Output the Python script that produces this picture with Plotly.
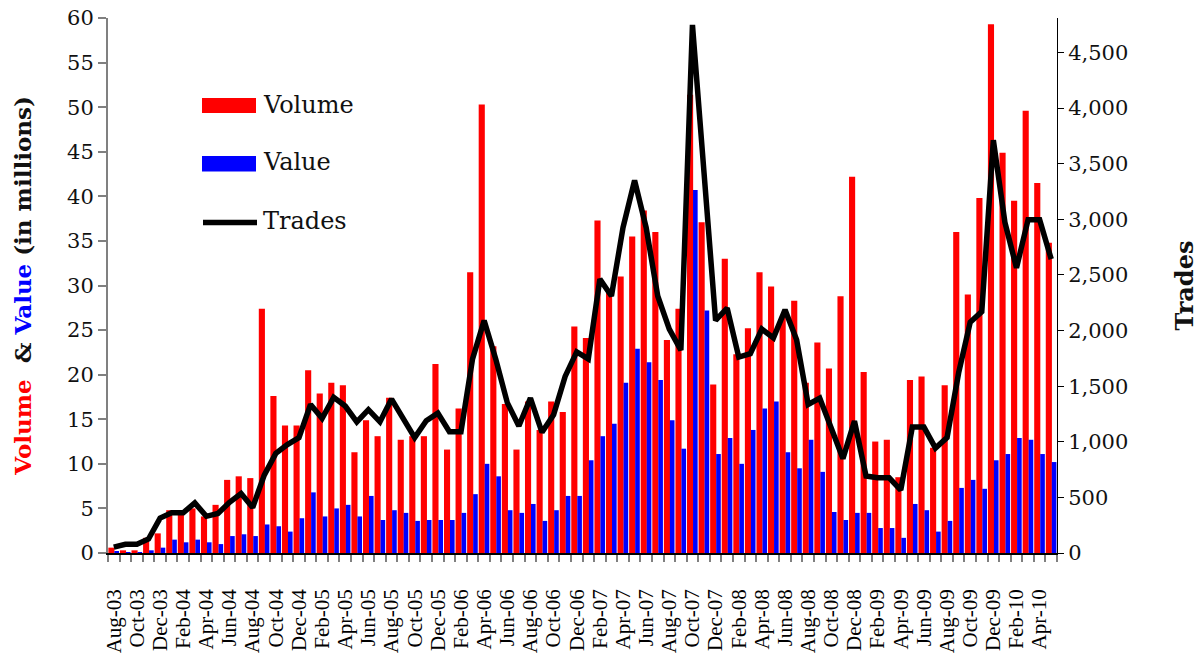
import plotly.graph_objects as go
import pandas as pd

# ---------------- data ----------------
months = pd.date_range("2003-08-01", periods=82, freq="MS").strftime("%b-%y").tolist()

volume = [0.6, 0.3, 0.3, 1.7, 2.2, 4.8, 4.5, 5.0, 4.1, 5.4, 8.2, 8.6, 8.4, 27.4, 17.6, 14.3,
          14.3, 20.5, 17.9, 19.1, 18.8, 11.3, 14.9, 13.1, 17.4, 12.7, 13.1, 13.1, 21.2, 11.6,
          16.2, 31.5, 50.3, 23.2, 16.7, 11.6, 17.0, 13.8, 17.0, 15.8, 25.4, 24.1, 37.3, 29.5,
          31.0, 35.5, 38.4, 36.0, 23.9, 27.4, 51.4, 37.1, 18.9, 33.0, 22.3, 25.2, 31.5, 29.9,
          26.5, 28.3, 19.1, 23.6, 20.7, 28.8, 42.2, 20.3, 12.5, 12.7, 8.5, 19.4, 19.8, 11.8,
          18.8, 36.0, 29.0, 39.8, 59.3, 44.9, 39.5, 49.6, 41.5, 34.8]

value = [0.2, 0.1, 0.1, 0.3, 0.6, 1.5, 1.2, 1.5, 1.2, 1.0, 1.9, 2.1, 1.9, 3.2, 3.0, 2.4,
         3.9, 6.8, 4.1, 5.0, 5.4, 4.1, 6.4, 3.7, 4.8, 4.5, 3.6, 3.7, 3.7, 3.7,
         4.5, 6.6, 10.0, 8.6, 4.8, 4.5, 5.5, 3.6, 4.8, 6.4, 6.4, 10.4, 13.1, 14.5,
         19.1, 22.9, 21.4, 19.4, 14.9, 11.7, 40.7, 27.2, 11.1, 12.9, 10.0, 13.8, 16.2, 17.0,
         11.3, 9.5, 12.7, 9.1, 4.6, 3.7, 4.5, 4.5, 2.8, 2.8, 1.7, 5.5, 4.8, 2.4,
         3.6, 7.3, 8.2, 7.2, 10.4, 11.1, 12.9, 12.7, 11.1, 10.2]

trades = [53, 79, 79, 126, 314, 362, 362, 450, 330, 355, 456, 535, 409, 700, 896, 975,
          1038, 1336, 1211, 1399, 1321, 1179, 1289, 1179, 1384, 1211, 1038, 1190, 1258, 1091,
          1091, 1745, 2091, 1745, 1352, 1142, 1393, 1085, 1242, 1588, 1808, 1745, 2462, 2311,
          2925, 3349, 2925, 2311, 2013, 1824, 4748, 3420, 2091, 2201, 1761, 1792, 2013, 1934,
          2186, 1918, 1336, 1393, 1116, 849, 1186, 692, 676, 676, 566, 1132, 1132, 943,
          1038, 1619, 2075, 2170, 3711, 2972, 2563, 2997, 2997, 2642]

left_ticks = list(range(0, 61, 5))
right_ticks = list(range(0, 4501, 500))

# ---------------- figure ----------------
W, H = 1204, 655
L, R, T, B = 108, 147, 18, 102
pw, ph = W - L - R, H - T - B

xi = list(range(len(months)))

fig = go.Figure()
fig.add_trace(go.Bar(x=xi, y=volume, name="Volume", marker=dict(color="#ff0000", line=dict(width=0)),
                     offset=-0.47, width=0.53, showlegend=False))
fig.add_trace(go.Bar(x=xi, y=value, name="Value", marker=dict(color="#0000ff", line=dict(width=0)),
                     offset=0.05, width=0.40, showlegend=False))
fig.add_trace(go.Scatter(x=xi, y=trades, name="Trades", mode="lines", yaxis="y2",
                         line=dict(color="#000000", width=5.5), showlegend=False))


def px_x(p):
    return (p - L) / pw


def px_y(p):
    return (H - B - p) / ph


# manual legend (swatches + text)
legend_items = [("Volume", "#ff0000", "bar", 98, 113, 105),
                ("Value", "#0000ff", "bar", 156, 171.5, 162),
                ("Trades", "#000000", "line", 222.5, 222.5, 221)]
shapes = []
annotations = []
for name, col, kind, y0, y1, yt in legend_items:
    if kind == "bar":
        shapes.append(dict(type="rect", xref="paper", yref="paper",
                           x0=px_x(202), x1=px_x(256), y0=px_y(y1), y1=px_y(y0),
                           fillcolor=col, line=dict(width=0)))
    else:
        shapes.append(dict(type="line", xref="paper", yref="paper",
                           x0=px_x(203), x1=px_x(257), y0=px_y(y0), y1=px_y(y0),
                           line=dict(color=col, width=5.5)))
    annotations.append(dict(text=name, xref="paper", yref="paper", x=px_x(261), y=px_y(yt),
                            xanchor="left", yanchor="middle", showarrow=False,
                            font=dict(family="DejaVu Serif", size=24, color="#111111")))

fig.update_layout(
    width=W, height=H,
    margin=dict(l=L, r=R, t=T, b=B, autoexpand=False),
    paper_bgcolor="white", plot_bgcolor="white",
    barmode="overlay",
    showlegend=False,
    shapes=shapes,
    annotations=annotations,
    xaxis=dict(
        range=[-0.5, len(months) - 0.5],
        tickmode="array", tickvals=xi[::2], ticktext=months[::2],
        tickangle=-90, ticks="", ticklabelstandoff=26,
        tickfont=dict(family="Liberation Serif", size=21, color="#000000"),
        showgrid=False, zeroline=False,
        showline=True, linecolor="#000000", linewidth=1.5,
        minor=dict(tickmode="array", tickvals=[i - 0.5 for i in range(len(months) + 1)],
                   ticks="outside", ticklen=7, tickcolor="#808080", tickwidth=1.5, showgrid=False),
    ),
    yaxis=dict(
        range=[0, 60], tickmode="array", tickvals=left_ticks,
        ticks="outside", ticklen=8, tickcolor="#808080", tickwidth=1.5,
        tickfont=dict(family="DejaVu Serif", size=21, color="#111111"),
        showgrid=False, zeroline=False,
        showline=True, linecolor="#808080", linewidth=2,
        title=dict(text="<span style='color:#ff0000'>Volume</span>  &amp; "
                        "<span style='color:#0000ff'>Value</span> (in millions)",
                   font=dict(family="DejaVu Serif", size=23, color="#111111", weight="bold"),
                   standoff=29),
    ),
    yaxis2=dict(
        overlaying="y", side="right", range=[0, 4810],
        tickmode="array", tickvals=right_ticks, tickformat=",d",
        ticks="outside", ticklen=6, tickcolor="#000000", tickwidth=1,
        tickfont=dict(family="DejaVu Serif", size=21, color="#111111"),
        showgrid=False, zeroline=False,
        showline=True, linecolor="#000000", linewidth=1,
        title=dict(text="Trades",
                   font=dict(family="DejaVu Serif", size=24, color="#111111", weight="bold"),
                   standoff=48),
    ),
)

fig.write_html("out.html", config={"displayModeBar": False},
               post_script="document.body.style.margin='0';document.body.style.overflow='hidden';")
